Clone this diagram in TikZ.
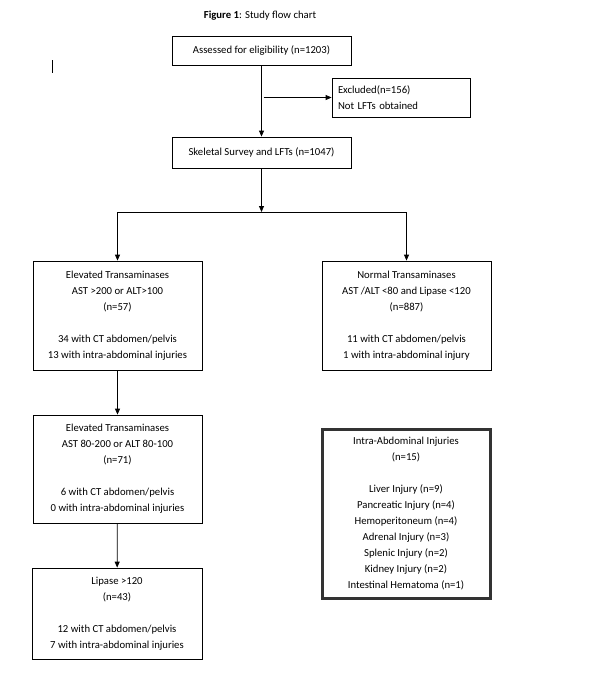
\documentclass[tikz,border=0pt]{standalone}
\usepackage{fontspec}
\setmainfont{Carlito}
\usetikzlibrary{arrows.meta}
\tikzset{
  flowbox/.style={draw, line width=0.8pt, align=center, inner sep=2pt},
  flowarrow/.style={line width=0.8pt, -{Triangle[length=6pt,width=5pt]}}
}
\begin{document}
\begin{tikzpicture}[x=1pt, y=-1pt, every node/.style={font=\fontsize{10.7}{16}\selectfont}]
\useasboundingbox (0,0) rectangle (610,678);
\node (title) at (260,16) {\textbf{Figure 1}: Study flow chart};
\draw[line width=0.8pt] (52,60) -- (52,73);
% top part
\node[flowbox, minimum width=179pt, minimum height=29pt] (assessed) at (261.5,50.5) {Assessed for eligibility (n=1203)};
\node[flowbox, minimum width=138pt, minimum height=39pt, text width=126pt, align=left] (excluded) at (401,97.5) {Excluded(n=156)\\Not LFTs obtained};
\node[flowbox, minimum width=179pt, minimum height=31pt] (survey) at (261.5,152.5) {Skeletal Survey and LFTs (n=1047)};
\coordinate (fork) at (261.5,212);
% branches
\node[flowbox, minimum width=169pt, minimum height=109pt] (elevA) at (117.5,315.5) {Elevated Transaminases\\AST >200 or ALT>100\\(n=57)\\[16pt]34 with CT abdomen/pelvis\\13 with intra-abdominal injuries};
\node[flowbox, minimum width=169pt, minimum height=109pt] (normal) at (406.5,315.5) {Normal Transaminases\\AST /ALT <80 and Lipase <120\\(n=887)\\[16pt]11 with CT abdomen/pelvis\\1 with intra-abdominal injury};
\node[flowbox, minimum width=169pt, minimum height=108pt] (elevB) at (117.5,469) {Elevated Transaminases\\AST 80-200 or ALT 80-100\\(n=71)\\[16pt]6 with CT abdomen/pelvis\\0 with intra-abdominal injuries};
\node[flowbox, minimum width=170pt, minimum height=91pt] (lipase) at (117,613.5) {Lipase >120\\(n=43)\\[16pt]12 with CT abdomen/pelvis\\7 with intra-abdominal injuries};
\node[flowbox, draw=black!80, line width=3pt, minimum width=168pt, minimum height=169pt] (injuries) at (406,513.5) {Intra-Abdominal Injuries\\(n=15)\\[16pt]Liver Injury (n=9)\\Pancreatic Injury (n=4)\\Hemoperitoneum (n=4)\\Adrenal Injury (n=3)\\Splenic Injury (n=2)\\Kidney Injury (n=2)\\Intestinal Hematoma (n=1)};
% connectors
\draw[flowarrow] (assessed) -- (survey);
\draw[flowarrow] ([xshift=2pt]assessed.south |- excluded.west) -- (excluded.west);
\draw[flowarrow] (survey) -- (fork);
\draw[line width=0.8pt] (fork -| elevA) -- (fork -| normal);
\draw[flowarrow] (fork -| elevA) -- (elevA);
\draw[flowarrow] (fork -| normal) -- (normal);
\draw[flowarrow] (elevA) -- (elevB);
\draw[flowarrow] (elevB) -- (lipase);
\end{tikzpicture}
\end{document}
